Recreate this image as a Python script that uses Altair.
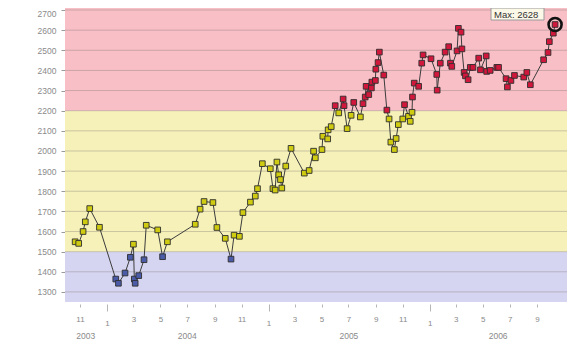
import altair as alt
import pandas as pd

# ---- data ----
dates = [
    "2003-10-21", "2003-10-29", "2003-11-08", "2003-11-13", "2003-11-23", "2003-12-15",
    "2004-01-21", "2004-01-27", "2004-02-11", "2004-02-23", "2004-03-01", "2004-03-03",
    "2004-03-05", "2004-03-13", "2004-03-25", "2004-03-30", "2004-04-25", "2004-05-06",
    "2004-05-17", "2004-07-19", "2004-07-30", "2004-08-08", "2004-08-28", "2004-09-06",
    "2004-09-25", "2004-10-08", "2004-10-15", "2004-10-27", "2004-11-04", "2004-11-21",
    "2004-12-02", "2004-12-07", "2004-12-18", "2005-01-05", "2005-01-11", "2005-01-16",
    "2005-01-20", "2005-01-24", "2005-01-28", "2005-01-31", "2005-02-09", "2005-02-21",
    "2005-03-23", "2005-04-03", "2005-04-13", "2005-04-17", "2005-05-02", "2005-05-04",
    "2005-05-15", "2005-05-16", "2005-05-23", "2005-06-01", "2005-06-09", "2005-06-19",
    "2005-06-21", "2005-06-28", "2005-07-07", "2005-07-13", "2005-07-28", "2005-08-03",
    "2005-08-08", "2005-08-10", "2005-08-16", "2005-08-22", "2005-08-23", "2005-08-31",
    "2005-09-01", "2005-09-06", "2005-09-09", "2005-09-19", "2005-09-26", "2005-10-01",
    "2005-10-05", "2005-10-13", "2005-10-17", "2005-10-22", "2005-11-01", "2005-11-05",
    "2005-11-14", "2005-11-18", "2005-11-22", "2005-11-23", "2005-11-27", "2005-12-07",
    "2005-12-14", "2005-12-17", "2006-01-04", "2006-01-17", "2006-01-18", "2006-01-25",
    "2006-02-05", "2006-02-13", "2006-02-17", "2006-02-20", "2006-03-04", "2006-03-07",
    "2006-03-13", "2006-03-15", "2006-03-20", "2006-03-23", "2006-03-29", "2006-04-03",
    "2006-04-09", "2006-04-22", "2006-04-26", "2006-05-09", "2006-05-10", "2006-05-18",
    "2006-06-02", "2006-06-06", "2006-06-23", "2006-06-26", "2006-07-04", "2006-07-12",
    "2006-08-02", "2006-08-09", "2006-08-17", "2006-09-16", "2006-09-26", "2006-09-29",
    "2006-10-08", "2006-10-12",
]
values = [
    1549, 1541, 1600, 1648, 1714, 1621,
    1364, 1343, 1394, 1472, 1537, 1364,
    1343, 1381, 1460, 1631, 1608, 1475,
    1549, 1636, 1711, 1749, 1744, 1620,
    1566, 1463, 1582, 1576, 1694, 1746,
    1776, 1813, 1937, 1912, 1813, 1806,
    1945, 1882, 1858, 1816, 1925, 2013,
    1890, 1903, 1999, 1966, 2007, 2073,
    2060, 2105, 2121, 2225, 2189, 2258,
    2225, 2111, 2177, 2241, 2169, 2235,
    2268, 2321, 2280, 2313, 2342, 2350,
    2406, 2439, 2491, 2377, 2203, 2159,
    2044, 2007, 2062, 2131, 2159, 2230,
    2172, 2147, 2192, 2268, 2337, 2321,
    2436, 2477, 2458, 2380, 2302, 2436,
    2491, 2518, 2436, 2420, 2497, 2609,
    2590, 2507, 2390, 2373, 2354, 2415,
    2415, 2461, 2403, 2472, 2395, 2400,
    2415, 2415, 2359, 2318, 2350, 2375,
    2367, 2390, 2329, 2453, 2489, 2543,
    2585, 2628,
]

# colour zones
zone_names = ["low", "mid", "high"]
zone_lo = [1250, 1500, 2200]
zone_hi = [1500, 2200, 2710]
zone_fill = ["#D6D5F1", "#F5F1B9", "#F8BFC6"]
point_fill = ["#4B5BA8", "#CFCB10", "#D2173C"]

grid_values = [1300, 1400, 1500, 1600, 1700, 1800, 1900, 2000,
               2100, 2200, 2300, 2400, 2500, 2600, 2700]

# odd-month ticks (year, month)
month_ticks = [(2003, 11), (2004, 1), (2004, 3), (2004, 5), (2004, 7), (2004, 9),
               (2004, 11), (2005, 1), (2005, 3), (2005, 5), (2005, 7), (2005, 9),
               (2005, 11), (2006, 1), (2006, 3), (2006, 5), (2006, 7), (2006, 9)]
year_labels = ["2003", "2004", "2005", "2006"]
year_centers = ["2003-11-14", "2004-07-01", "2005-07-02", "2006-06-05"]

x_start = (2003, 9, 28)
x_end = (2006, 11, 8)
y_domain = [1250, 2710]

# ---- tables ----
def zone_of(v):
    if v < zone_lo[1]:
        return zone_names[0]
    if v < zone_lo[2]:
        return zone_names[1]
    return zone_names[2]

df = pd.DataFrame({"date": dates, "value": values})
df["zone"] = [zone_of(v) for v in values]
df_max = df[df["value"] == df["value"].max()].copy()
df_max["label"] = "Max: " + df_max["value"].astype(str)

bands = pd.DataFrame({"lo": zone_lo, "hi": zone_hi, "fill": zone_fill})
grid = pd.DataFrame({"v": grid_values})
years = pd.DataFrame({"year": year_labels, "center": year_centers})

W, H = 502, 294
FONT = "Liberation Sans"
LABEL_GREY = "#8a8a8a"

xscale = alt.Scale(type="utc",
                   domain=[alt.DateTime(year=x_start[0], month=x_start[1], date=x_start[2], utc=True),
                           alt.DateTime(year=x_end[0], month=x_end[1], date=x_end[2], utc=True)])
yscale = alt.Scale(domain=y_domain, nice=False, zero=False)

is_jan = "utcmonth(datum.value) == 0"

x_axis = alt.Axis(
    values=[alt.DateTime(year=y, month=m, date=1, utc=True) for y, m in month_ticks],
    labelExpr="'' + (utcmonth(datum.value) + 1)",
    title=None, grid=False, domain=False, offset=2,
    labelOverlap=False,
    tickColor="#b5b5b5",
    tickSize={"condition": {"test": is_jan, "value": 7}, "value": 3},
    labelPadding=8,
    labelFontSize=8, labelColor=LABEL_GREY, labelFont=FONT,
)
y_axis = alt.Axis(
    values=grid_values, title=None, grid=False, domain=False, format="d",
    labelOverlap=False,
    tickSize=4, tickColor="#9a9a9a", labelPadding=5,
    labelOffset={"condition": {"test": "datum.value >= 2700", "value": 3}, "value": 0},
    labelFontSize=8.5, labelColor=LABEL_GREY, labelFont=FONT,
)

def X(field):
    return alt.X(field, scale=xscale, axis=x_axis)

def Y(field):
    return alt.Y(field, scale=yscale, axis=y_axis)

band_layer = alt.Chart(bands).mark_rect().encode(
    y=Y("lo:Q"),
    y2="hi:Q",
    fill=alt.Fill("fill:N", scale=None),
)

grid_layer = alt.Chart(grid).mark_rule(color="#7a6f70", opacity=0.35, strokeWidth=1).encode(
    y=Y("v:Q"),
)

line_layer = alt.Chart(df).mark_line(color="#3c3c3c", strokeWidth=1).encode(
    x=X("date:T"),
    y=Y("value:Q"),
)

point_layer = alt.Chart(df).mark_point(
    shape="square", filled=True, size=32, stroke="#2e2e2e", strokeWidth=0.9, opacity=1
).encode(
    x=X("date:T"),
    y=Y("value:Q"),
    fill=alt.Fill("zone:N", scale=alt.Scale(domain=zone_names, range=point_fill), legend=None),
)

ring_layer = alt.Chart(df_max).mark_point(
    shape="circle", filled=False, size=170, stroke="#111111", strokeWidth=2.6, opacity=1
).encode(
    x=X("date:T"),
    y=Y("value:Q"),
)

box_layer = alt.Chart(df_max).mark_rect(
    fill="#FBF8E8", stroke="#9a9a9a", strokeWidth=1
).encode(
    x=alt.value(426), x2=alt.value(479),
    y=alt.value(0), y2=alt.value(12),
)

label_layer = alt.Chart(df_max).mark_text(
    align="left", baseline="middle", fontSize=9.5, font=FONT, color="#333333"
).encode(
    x=alt.value(429), y=alt.value(6.5), text="label:N",
)

year_layer = alt.Chart(years).mark_text(
    align="center", baseline="middle", fontSize=8.5, font=FONT, color=LABEL_GREY
).encode(
    x=X("center:T"),
    y=alt.value(H + 34),
    text="year:N",
)

chart = alt.layer(
    band_layer, grid_layer, line_layer, point_layer, ring_layer,
    box_layer, label_layer, year_layer,
).properties(
    width=W, height=H,
    autosize=alt.AutoSizeParams(type="none"),
    padding={"left": 57, "top": 0, "right": 0, "bottom": 38},
).configure_view(stroke=None)

chart.save("out.html", embed_options={"renderer": "svg", "actions": False})
